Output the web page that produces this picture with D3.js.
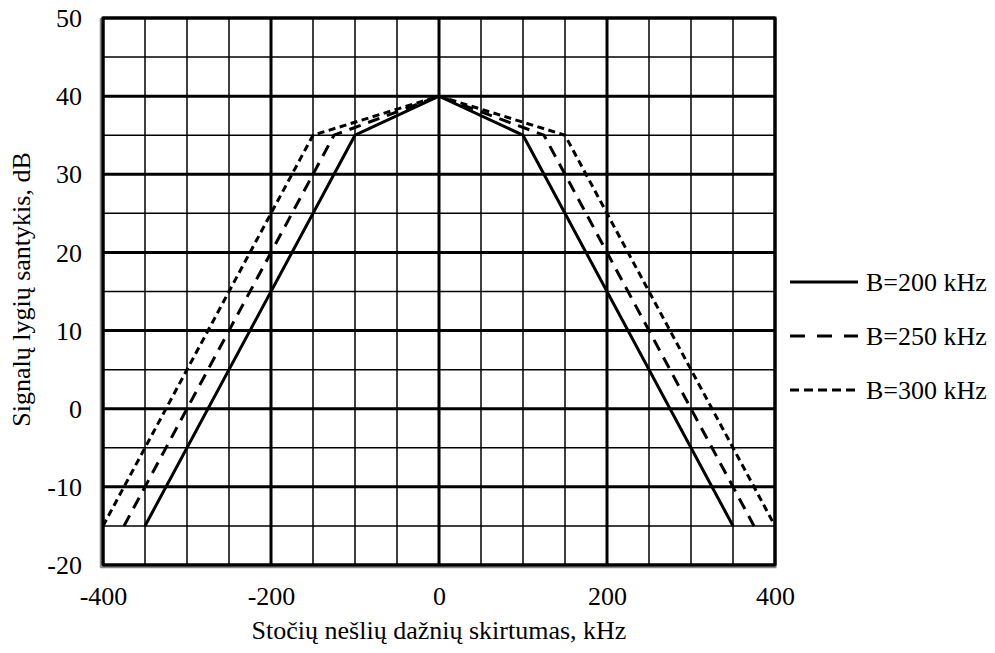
<!DOCTYPE html>
<html>
<head>
<meta charset="utf-8">
<script src="https://cdn.jsdelivr.net/npm/d3@7/dist/d3.min.js"></script>
<style>
  html, body { margin: 0; padding: 0; background: #fff; }
  svg { display: block; }
</style>
</head>
<body>
<svg id="chart" width="995" height="653"></svg>
<script>
// ---- data ----
const seriesNames = ["B=200 kHz", "B=250 kHz", "B=300 kHz"];
const b200X = [-350, -100, 0, 100, 350];
const b200Y = [-15, 35, 40, 35, -15];
const b250X = [-375, -125, 0, 125, 375];
const b250Y = [-15, 35, 40, 35, -15];
const b300X = [-400, -150, 0, 150, 400];
const b300Y = [-15, 35, 40, 35, -15];
const xTicks = [-400, -200, 0, 200, 400];
const yTicks = [-20, -10, 0, 10, 20, 30, 40, 50];
const xTitle = "Stočių nešlių dažnių skirtumas, kHz";
const yTitle = "Signalų lygių santykis, dB";

const FONT = '"Liberation Serif"';
const FS = "26px";
function txt(sel) {
  return sel.attr("font-family", "Liberation Serif").attr("font-size", 26)
    .style("font-family", FONT).style("font-size", FS).style("fill", "#000");
}

// ---- layout ----
const svg = d3.select("#chart").style("font-family", FONT);
const L = 103, R = 775, T = 18, B = 565;
const x = d3.scaleLinear().domain([-400, 400]).range([L, R]);
const y = d3.scaleLinear().domain([-20, 50]).range([B, T]);
const fmt = d => String(d);

// grid
const g = svg.append("g");
d3.range(-400, 401, 50).forEach(v => {
  const major = v % 200 === 0;
  g.append("line").attr("x1", x(v)).attr("x2", x(v)).attr("y1", T).attr("y2", B)
    .attr("stroke", "#000").attr("stroke-width", major ? 3 : 1.5);
});
d3.range(-20, 51, 5).forEach(v => {
  const major = v % 10 === 0;
  g.append("line").attr("x1", L).attr("x2", R).attr("y1", y(v)).attr("y2", y(v))
    .attr("stroke", "#000").attr("stroke-width", major ? 3 : 1.5);
});

// frame
svg.append("line").attr("x1", L - 2.5).attr("x2", L - 2.5).attr("y1", T).attr("y2", B + 2.5)
  .attr("stroke", "#888").attr("stroke-width", 1.5);
svg.append("line").attr("x1", L - 2.5).attr("x2", R + 1.5).attr("y1", B + 2.5).attr("y2", B + 2.5)
  .attr("stroke", "#888").attr("stroke-width", 1.5);
svg.append("rect").attr("x", L).attr("y", T).attr("width", R - L).attr("height", B - T)
  .attr("fill", "none").attr("stroke", "#000").attr("stroke-width", 3);

// axes (labels only)
const xAxis = d3.axisBottom(x).tickValues(xTicks).tickSize(0).tickPadding(0).tickFormat(fmt);
const xa = svg.append("g").attr("transform", `translate(0,${B})`).call(xAxis)
  .attr("font-family", null).attr("font-size", null);
xa.select(".domain").remove();
txt(xa.selectAll("text").attr("dy", null).attr("y", 40));

const yAxis = d3.axisLeft(y).tickValues(yTicks).tickSize(0).tickPadding(0).tickFormat(fmt);
const ya = svg.append("g").attr("transform", `translate(${L - 21},0)`).call(yAxis)
  .attr("font-family", null).attr("font-size", null);
ya.select(".domain").remove();
txt(ya.selectAll("text").attr("dy", "0.33em").attr("x", 0));

// titles
txt(svg.append("text").attr("x", x(0)).attr("y", 639).attr("text-anchor", "middle").text(xTitle));
txt(svg.append("text").attr("transform", `translate(30,${(T + B) / 2 - 2}) rotate(-90)`)
  .attr("text-anchor", "middle").text(yTitle));

// series
const series = [
  { name: seriesNames[0], xs: b200X, ys: b200Y, dash: null },
  { name: seriesNames[1], xs: b250X, ys: b250Y, dash: "12,8" },
  { name: seriesNames[2], xs: b300X, ys: b300Y, dash: "7,4.5" }
];
const line = d3.line().x(d => x(d[0])).y(d => y(d[1]));
series.forEach(s => {
  const pts = s.xs.map((v, i) => [v, s.ys[i]]);
  svg.append("path").attr("d", line(pts)).attr("fill", "none").attr("stroke", "#000")
    .attr("stroke-width", 3).attr("stroke-dasharray", s.dash);
});

// legend
const legY = [282, 336, 390];
const legDash = [null, "15,12", "9,5"];
series.forEach((s, i) => {
  svg.append("line").attr("x1", 790).attr("x2", 858).attr("y1", legY[i]).attr("y2", legY[i])
    .attr("stroke", "#000").attr("stroke-width", 3).attr("stroke-dasharray", legDash[i]);
  txt(svg.append("text").attr("x", 866).attr("y", legY[i]).attr("dy", "0.33em").text(s.name));
});
</script>
</body>
</html>
